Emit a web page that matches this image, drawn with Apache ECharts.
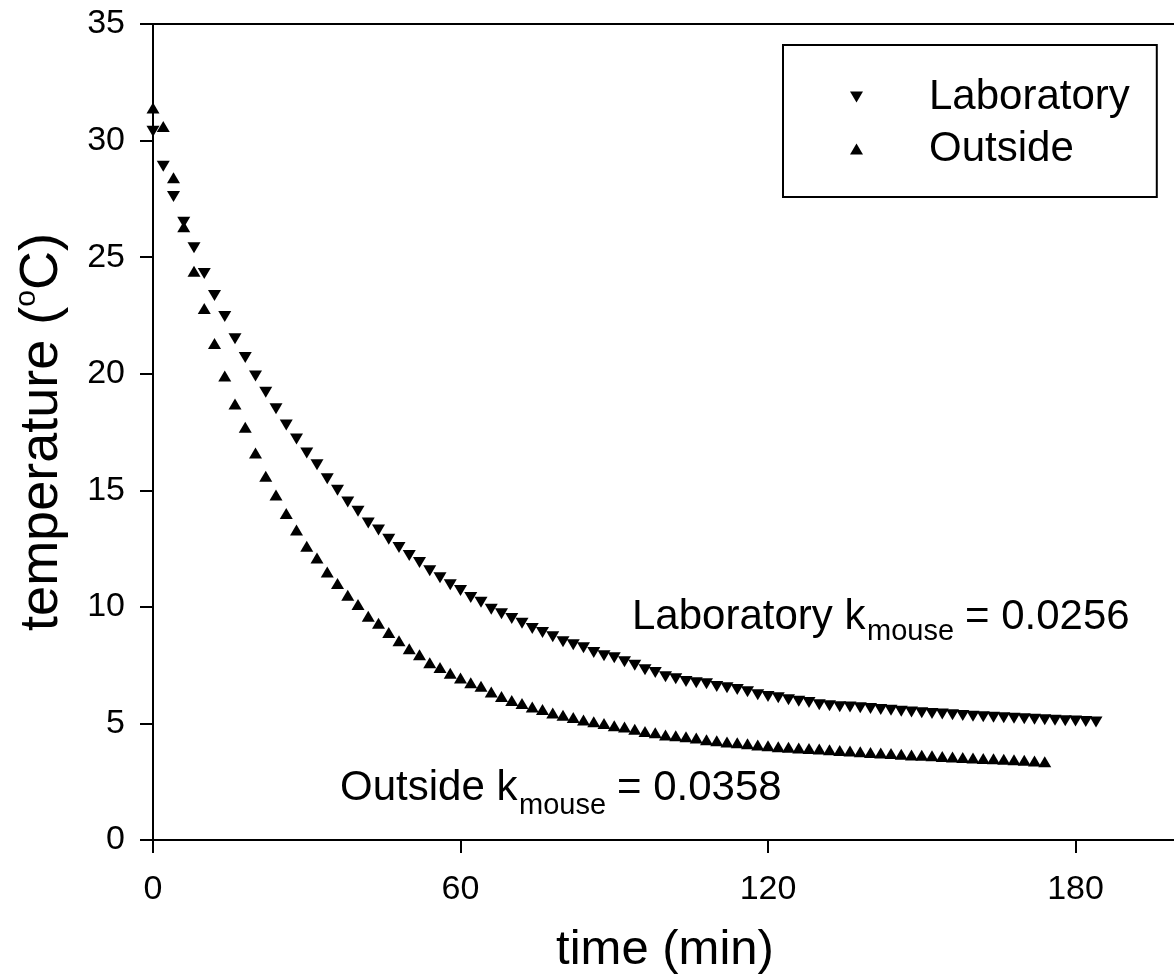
<!DOCTYPE html>
<html>
<head>
<meta charset="utf-8">
<script src="https://cdn.jsdelivr.net/npm/echarts/dist/echarts.min.js"></script>
<style>
html,body{margin:0;padding:0;background:#fff;}
#chart{width:1174px;height:978px;}
</style>
</head>
<body>
<div id="chart"></div>
<script>
// ---- data ----
const labTime = [0,2,4,6,8,10,12,14,16,18,20,22,24,26,28,30,32,34,36,38,40,42,44,46,48,50,52,54,56,58,60,62,64,66,68,70,72,74,76,78,80,82,84,86,88,90,92,94,96,98,100,102,104,106,108,110,112,114,116,118,120,122,124,126,128,130,132,134,136,138,140,142,144,146,148,150,152,154,156,158,160,162,164,166,168,170,172,174,176,178,180,182,184];
const labTemp = [30.4,28.9,27.6,26.5,25.4,24.3,23.35,22.45,21.5,20.7,
  19.9,19.2,18.5,17.8,17.2,16.6,16.1,15.5,15.0,14.5,
  14.1,13.6,13.3,12.9,12.55,12.2,11.9,11.55,11.25,10.95,
  10.7,10.4,10.2,9.9,9.7,9.5,9.3,9.07,8.9,8.72,
  8.5,8.38,8.25,8.04,7.9,7.82,7.65,7.5,7.3,7.18,
  7.0,6.92,6.8,6.75,6.7,6.58,6.53,6.45,6.36,6.23,
  6.15,6.1,6.02,5.95,5.9,5.8,5.76,5.72,5.7,5.67,
  5.64,5.6,5.56,5.52,5.49,5.46,5.43,5.40,5.37,5.34,
  5.31,5.29,5.26,5.24,5.22,5.20,5.18,5.16,5.14,5.12,
  5.10,5.08,5.06];
const outTime = [0,2,4,6,8,10,12,14,16,18,20,22,24,26,28,30,32,34,36,38,40,42,44,46,48,50,52,54,56,58,60,62,64,66,68,70,72,74,76,78,80,82,84,86,88,90,92,94,96,98,100,102,104,106,108,110,112,114,116,118,120,122,124,126,128,130,132,134,136,138,140,142,144,146,148,150,152,154,156,158,160,162,164,166,168,170,172,174];
const outTemp = [31.4,30.6,28.4,26.3,24.4,22.8,21.3,19.9,18.7,17.7,
  16.6,15.6,14.8,14.0,13.3,12.6,12.1,11.5,11.0,10.5,
  10.1,9.6,9.3,8.9,8.55,8.2,7.95,7.6,7.4,7.15,
  6.95,6.75,6.6,6.35,6.15,5.98,5.85,5.7,5.6,5.45,
  5.35,5.25,5.15,5.07,5.0,4.9,4.85,4.75,4.65,4.6,
  4.5,4.47,4.43,4.38,4.3,4.26,4.2,4.17,4.13,4.08,
  4.04,4.0,3.98,3.95,3.92,3.9,3.87,3.84,3.82,3.78,
  3.75,3.73,3.71,3.68,3.65,3.63,3.61,3.58,3.56,3.54,
  3.52,3.50,3.48,3.46,3.44,3.42,3.39,3.36];
const xTicks = [0,60,120,180];
const yTicks = [0,5,10,15,20,25,30,35];
const seriesNames = ['Laboratory','Outside'];
const labK = '0.0256';
const outK = '0.0358';

// ---- chart ----
const FONT = "'Liberation Sans', Arial, Helvetica, sans-serif";
const labData = labTime.map((t, i) => [t, labTemp[i]]);
const outData = outTime.map((t, i) => [t, outTemp[i]]);
const DOWN_TRI = 'path://M0,0L12,0L6,10Z';

const chart = echarts.init(document.getElementById('chart'), null, {renderer: 'canvas'});
chart.setOption({
  animation: false,
  backgroundColor: '#ffffff',
  textStyle: {fontFamily: FONT},
  grid: {
    left: 153, top: 24, right: -4, bottom: 138,
    show: true, borderColor: '#000', borderWidth: 2,
    containLabel: false, outerBoundsMode: 'none'
  },
  legend: {
    orient: 'vertical',
    left: 783, top: 45,
    padding: [26, 27, 22, 67],
    itemGap: 0,
    itemWidth: 13, itemHeight: 11,
    borderColor: '#000', borderWidth: 2,
    backgroundColor: '#fff',
    textStyle: {fontFamily: FONT, fontSize: 42, color: '#000', lineHeight: 52, padding: [0, 0, 0, 61]},
    data: [
      {name: seriesNames[0], icon: DOWN_TRI},
      {name: seriesNames[1], icon: 'triangle'}
    ]
  },
  xAxis: {
    type: 'value', min: 0, max: 200, interval: 60,
    axisLine: {show: true, onZero: false, lineStyle: {color: '#000', width: 2}},
    axisTick: {show: true, inside: false, length: 13, lineStyle: {color: '#000', width: 2}},
    axisLabel: {
      fontFamily: FONT, fontSize: 34, color: '#000', margin: 33, showMaxLabel: false,
      formatter: v => xTicks.indexOf(v) >= 0 ? String(v) : ''
    },
    splitLine: {show: false}
  },
  yAxis: {
    type: 'value', min: 0, max: 35, interval: 5,
    axisLine: {show: true, onZero: false, lineStyle: {color: '#000', width: 2}},
    axisTick: {show: true, inside: false, length: 13, lineStyle: {color: '#000', width: 2}},
    axisLabel: {
      fontFamily: FONT, fontSize: 34, color: '#000', margin: 28,
      formatter: v => yTicks.indexOf(v) >= 0 ? String(v) : ''
    },
    splitLine: {show: false}
  },
  series: [
    {
      name: seriesNames[0], type: 'scatter', data: labData,
      symbol: 'triangle', symbolRotate: 180, symbolSize: [13, 11],
      itemStyle: {color: '#000', opacity: 1}, z: 3
    },
    {
      name: seriesNames[1], type: 'scatter', data: outData,
      symbol: 'triangle', symbolSize: [13, 11],
      itemStyle: {color: '#000', opacity: 1}, z: 4
    }
  ],
  graphic: [
    {type: 'text', x: 665, y: 950, style: {text: 'time (min)', fontFamily: FONT, fontSize: 49, fill: '#000', align: 'center', verticalAlign: 'middle'}},
    {type: 'text', x: 42, y: 432, rotation: Math.PI / 2,
      style: {
        text: '{a|temperature (}{s|o}{a|C)}',
        fontFamily: FONT, align: 'center', verticalAlign: 'middle', fill: '#000',
        rich: {
          a: {fontFamily: FONT, fontSize: 54, lineHeight: 60, fill: '#000'},
          s: {fontFamily: FONT, fontSize: 30, lineHeight: 30, verticalAlign: 'top', fill: '#000'}
        }
      }
    },
    {type: 'text', x: 632, y: 617, style: {text: seriesNames[0] + ' k', fontFamily: FONT, fontSize: 42, fill: '#000', align: 'left', verticalAlign: 'middle'}},
    {type: 'text', x: 867, y: 632, style: {text: 'mouse', fontFamily: FONT, fontSize: 29, fill: '#000', align: 'left', verticalAlign: 'middle'}},
    {type: 'text', x: 965, y: 617, style: {text: '= ' + labK, fontFamily: FONT, fontSize: 42, fill: '#000', align: 'left', verticalAlign: 'middle'}},
    {type: 'text', x: 340, y: 788, style: {text: seriesNames[1] + ' k', fontFamily: FONT, fontSize: 42, fill: '#000', align: 'left', verticalAlign: 'middle'}},
    {type: 'text', x: 519, y: 806, style: {text: 'mouse', fontFamily: FONT, fontSize: 29, fill: '#000', align: 'left', verticalAlign: 'middle'}},
    {type: 'text', x: 617, y: 788, style: {text: '= ' + outK, fontFamily: FONT, fontSize: 42, fill: '#000', align: 'left', verticalAlign: 'middle'}}
  ]
});
</script>
</body>
</html>
